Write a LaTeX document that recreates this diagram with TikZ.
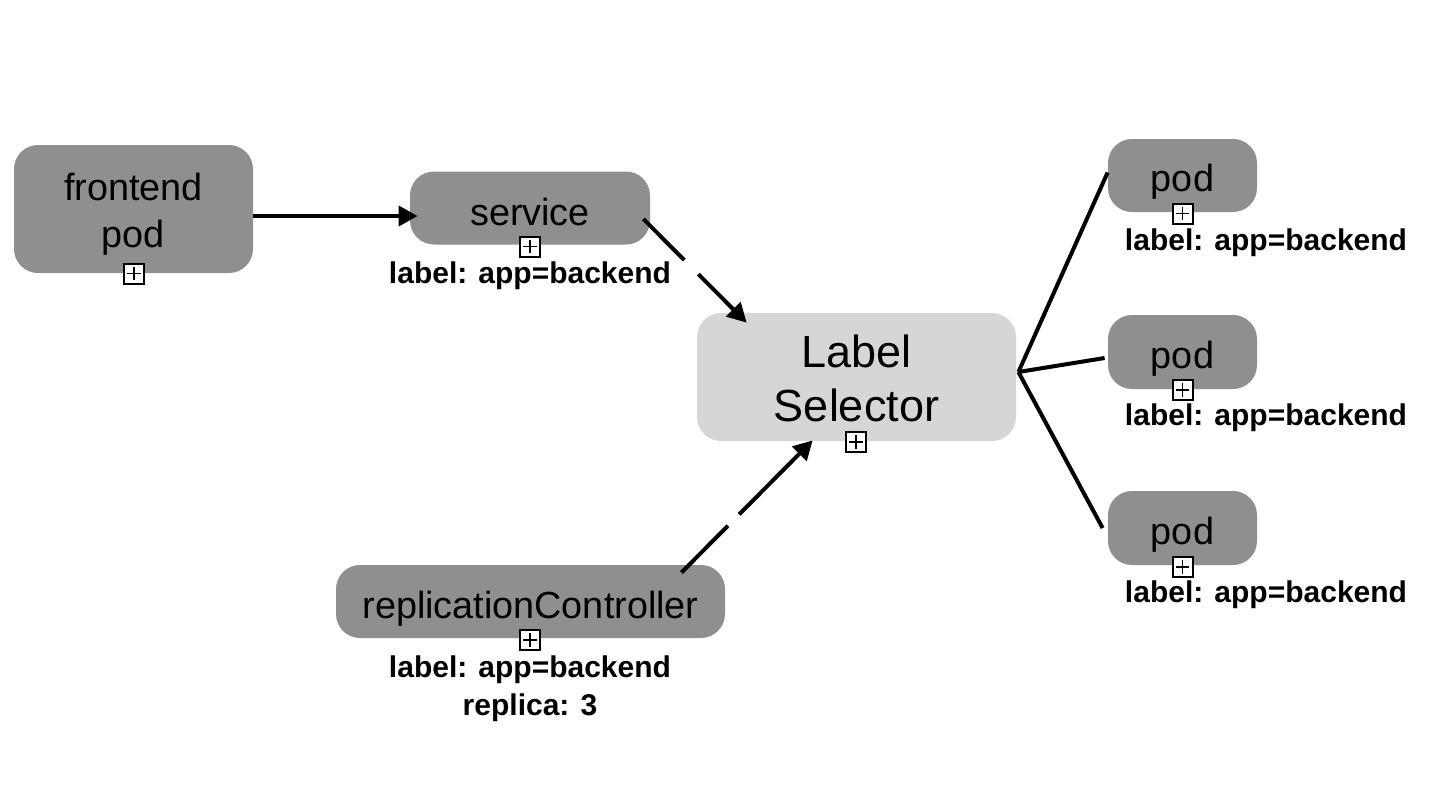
\documentclass[tikz,border=0pt]{standalone}
\usepackage{fontspec}
\setmainfont{Liberation Sans}
\usetikzlibrary{arrows.meta,calc}
\definecolor{boxgray}{RGB}{143,143,143}
\definecolor{selgray}{RGB}{214,214,214}
\newcommand\lowertxt[2]{\raisebox{-#1}[\height][\depth]{\begin{tabular}{@{}c@{}}#2\end{tabular}}}
\begin{document}
\begin{tikzpicture}[x=0.5pt,y=-0.5pt,
  box/.style={rounded corners=12pt, fill=boxgray, inner sep=0pt, align=center,
    font=\fontsize{18.9}{23.5}\selectfont},
  selbox/.style={rounded corners=12pt, fill=selgray, inner sep=0pt, align=center,
    font=\fontsize{22.5}{27}\selectfont},
  lbl/.style={font=\bfseries\fontsize{15}{19}\selectfont, align=center, inner sep=0pt},
  plusbox/.style={draw, fill=white, line width=1pt, minimum size=10pt, inner sep=0pt,
    path picture={\draw[line width=0.7pt]
      ([xshift=-3.4pt]path picture bounding box.center) -- ([xshift=3.4pt]path picture bounding box.center)
      ([yshift=-3.4pt]path picture bounding box.center) -- ([yshift=3.4pt]path picture bounding box.center);}},
  conn/.style={line width=2pt},
  arr/.style={conn, -{Triangle[length=9.5pt,width=10pt]}}]
\useasboundingbox (0,0) rectangle (1442,784);

% nodes
\node[box, minimum width=119.5pt, minimum height=64pt] (fe) at (133.5,209) {\lowertxt{3pt}{frontend\\pod}};
\node[plusbox] (fep) at (134,273.5) {};

\node[box, minimum width=120pt, minimum height=36.5pt] (svc) at (530,208) {\lowertxt{4pt}{service}};
\node[plusbox] (svcp) at (530,246.5) {};
\node[lbl] (svcl) at (530,276) {label: app=backend};

\node[selbox, minimum width=159.5pt, minimum height=64pt] (ls) at (856.5,377) {\lowertxt{3.5pt}{Label\\Selector}};
\node[plusbox] (lsp) at (856,442) {};

\node[box, minimum width=194.5pt, minimum height=36.5pt] (rc) at (530.5,601.5) {\lowertxt{4pt}{replicationController}};
\node[plusbox] (rcp) at (530,640) {};
\node[lbl] (rcl) at (530,689) {label: app=backend\\replica: 3};

\node[box, minimum width=74.5pt, minimum height=36.5pt] (p1) at (1182.5,175.5) {\lowertxt{3.5pt}{pod}};
\node[plusbox] (p1p) at (1182.5,213.5) {};
\node[lbl] (p1l) at (1266,243) {label: app=backend};

\node[box, minimum width=74.5pt, minimum height=37pt] (p2) at (1182.5,352) {\lowertxt{3.5pt}{pod}};
\node[plusbox] (p2p) at (1182.5,390) {};
\node[lbl] (p2l) at (1266,418) {label: app=backend};

\node[box, minimum width=74.5pt, minimum height=37pt] (p3) at (1182.5,528) {\lowertxt{3.5pt}{pod}};
\node[plusbox] (p3p) at (1182.5,567) {};
\node[lbl] (p3l) at (1266,595) {label: app=backend};

% connectors
\draw[arr] ($(fe.east)+(0,7)$) -- ($(svc.west)+(8,8)$);
\draw[arr, dash pattern=on 29pt off 10pt on 200pt] ($(svc.east)+(-7,11)$) -- ($(ls.north west)+(50,10)$);
\draw[arr, dash pattern=on 33pt off 8pt on 200pt] ($(rc.north east)+(-44,8)$) -- ($(ls.south west)+(116,-1)$);

\coordinate (hub) at ($(ls.east)+(2,-5)$);
\draw[conn] (hub) -- ($(p1.west)+(0,-3)$);
\draw[conn] (hub) -- ($(p2.west)+(-3,6)$);
\draw[conn] (hub) -- ($(p3.west)+(-5,0)$);
\end{tikzpicture}
\end{document}
